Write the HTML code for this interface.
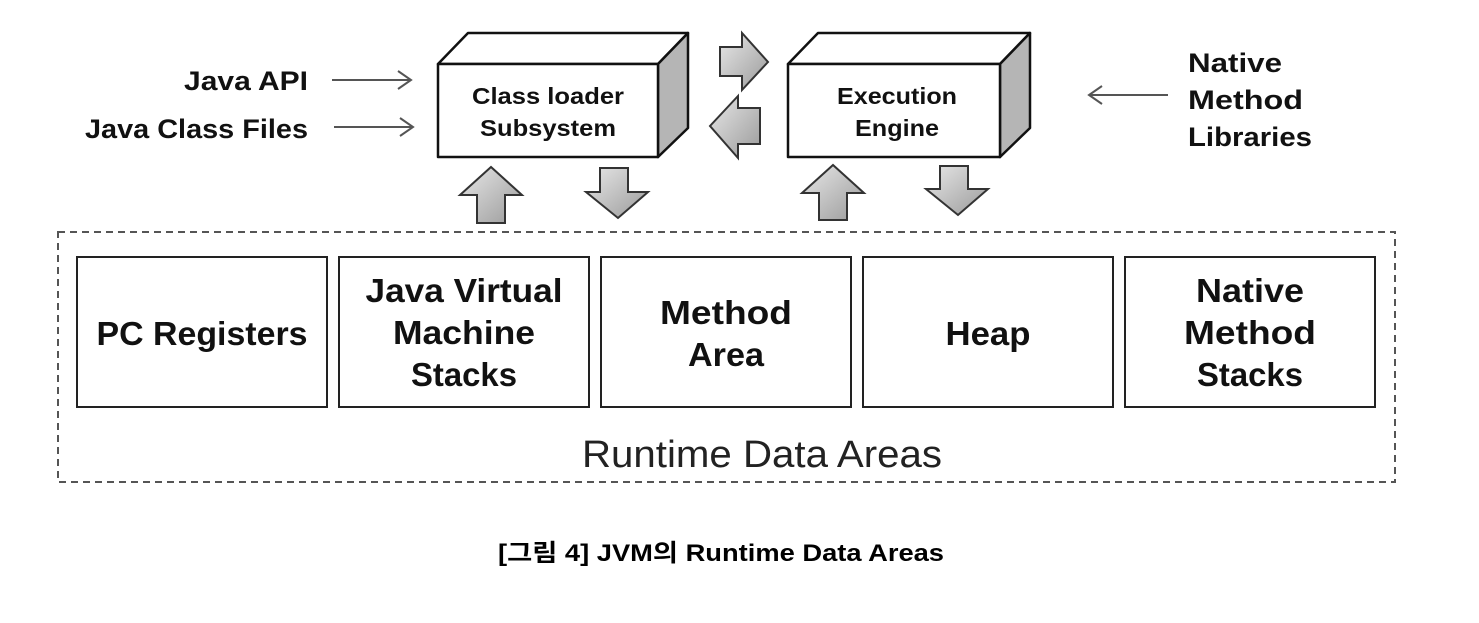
<!DOCTYPE html>
<html><head><style>
body{margin:0;background:#fff;width:1479px;height:618px;overflow:hidden}
text{font-family:"Liberation Sans","Noto Sans CJK KR",sans-serif}
</style></head><body>
<svg width="1479" height="618" viewBox="0 0 1479 618">
<defs>
<linearGradient id="g" x1="0" y1="0" x2="1" y2="1"><stop offset="0" stop-color="#e8e8e8"/><stop offset="1" stop-color="#9a9a9a"/></linearGradient>
</defs>
<g stroke="#111" stroke-width="2.5" stroke-linejoin="round">
<polygon points="438,64 468,33 688,33 658,64" fill="#fff"/>
<polygon points="658,64 688,33 688,128 658,157" fill="#b5b5b5"/>
<rect x="438" y="64" width="220" height="93" fill="#fff"/>
<polygon points="788,64 818,33 1030,33 1000,64" fill="#fff"/>
<polygon points="1000,64 1030,33 1030,128 1000,157" fill="#b5b5b5"/>
<rect x="788" y="64" width="212" height="93" fill="#fff"/>
</g>
<g font-weight="bold" font-size="23" text-anchor="middle" fill="#111" lengthAdjust="spacingAndGlyphs">
<text x="548" y="104" textLength="152" lengthAdjust="spacingAndGlyphs">Class loader</text><text x="548" y="136" textLength="136" lengthAdjust="spacingAndGlyphs">Subsystem</text>
<text x="897" y="104" textLength="120" lengthAdjust="spacingAndGlyphs">Execution</text><text x="897" y="136" textLength="84" lengthAdjust="spacingAndGlyphs">Engine</text>
</g>
<g fill="url(#g)" stroke="#333" stroke-width="2">
<polygon points="720,47 742,47 742,33 768,62 742,90 742,76 720,76"/>
<polygon points="760,108 738,108 738,96 710,126 738,158 738,144 760,144"/>
<polygon points="460,195 491,167 522,195 505,195 505,223 477,223 477,195"/>
<polygon points="600,168 628,168 628,192 648,192 618,218 586,192 600,192"/>
<polygon points="802,193 833,165 864,193 847,193 847,220 819,220 819,193"/>
<polygon points="940,166 968,166 968,189 988,189 958,215 926,189 940,189"/>
</g>
<g font-weight="bold" font-size="27" fill="#111">
<text x="184" y="90" textLength="124" lengthAdjust="spacingAndGlyphs">Java API</text>
<text x="85" y="138" textLength="223" lengthAdjust="spacingAndGlyphs">Java Class Files</text>
<text x="1188" y="72" textLength="94" lengthAdjust="spacingAndGlyphs">Native</text>
<text x="1188" y="109" textLength="115" lengthAdjust="spacingAndGlyphs">Method</text>
<text x="1188" y="146" textLength="124" lengthAdjust="spacingAndGlyphs">Libraries</text>
</g>
<g stroke="#555" stroke-width="2" fill="none">
<path d="M332,80 H410 M398,71 L411,80 L398,89"/>
<path d="M334,127 H412 M400,118 L413,127 L400,136"/>
<path d="M1168,95 H1090 M1102,86 L1089,95 L1102,104"/>
</g>
<rect x="58" y="232" width="1337" height="250" fill="none" stroke="#555" stroke-width="2" stroke-dasharray="7,5"/>
<g fill="#fff" stroke="#222" stroke-width="2">
<rect x="77" y="257" width="250" height="150"/>
<rect x="339" y="257" width="250" height="150"/>
<rect x="601" y="257" width="250" height="150"/>
<rect x="863" y="257" width="250" height="150"/>
<rect x="1125" y="257" width="250" height="150"/>
</g>
<g font-weight="bold" font-size="33" text-anchor="middle" fill="#111">
<text x="202" y="345" textLength="211" lengthAdjust="spacingAndGlyphs">PC Registers</text>
<text x="464" y="302" textLength="197" lengthAdjust="spacingAndGlyphs">Java Virtual</text><text x="464" y="344" textLength="142" lengthAdjust="spacingAndGlyphs">Machine</text><text x="464" y="386" textLength="106" lengthAdjust="spacingAndGlyphs">Stacks</text>
<text x="726" y="324" textLength="132" lengthAdjust="spacingAndGlyphs">Method</text><text x="726" y="366" textLength="76" lengthAdjust="spacingAndGlyphs">Area</text>
<text x="988" y="345" textLength="85" lengthAdjust="spacingAndGlyphs">Heap</text>
<text x="1250" y="302" textLength="108" lengthAdjust="spacingAndGlyphs">Native</text><text x="1250" y="344" textLength="132" lengthAdjust="spacingAndGlyphs">Method</text><text x="1250" y="386" textLength="106" lengthAdjust="spacingAndGlyphs">Stacks</text>
</g>
<text x="762" y="467" font-size="38" text-anchor="middle" fill="#222" textLength="360" lengthAdjust="spacingAndGlyphs">Runtime Data Areas</text>
<text x="721" y="561" font-size="24" font-weight="bold" text-anchor="middle" fill="#000" textLength="446" lengthAdjust="spacingAndGlyphs">[그림 4] JVM의 Runtime Data Areas</text>
</svg>
</body></html>
